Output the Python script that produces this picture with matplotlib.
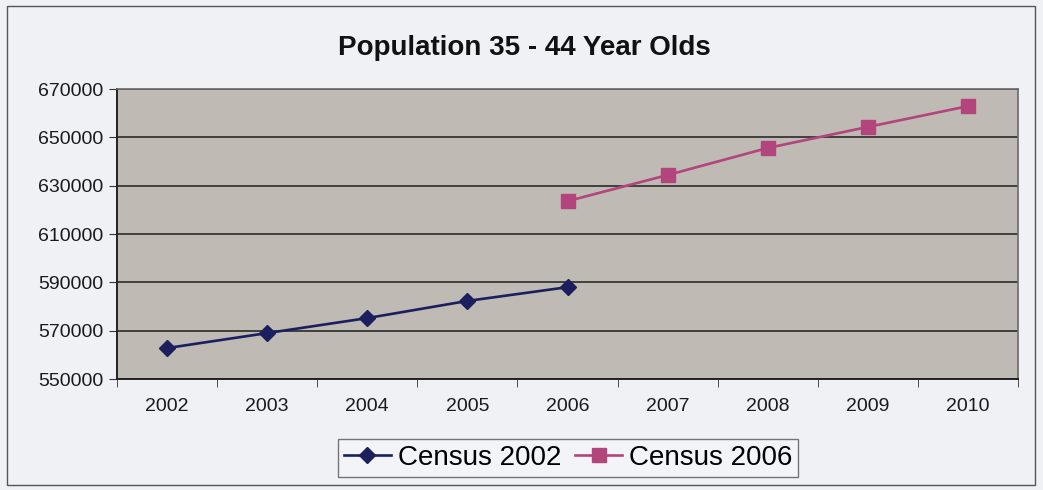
import matplotlib.pyplot as plt
from matplotlib.patches import Rectangle

years = ['2002', '2003', '2004', '2005', '2006', '2007', '2008', '2009', '2010']
census_2002 = [562800, 569000, 575200, 582300, 588000]
census_2006 = [623600, 634400, 645600, 654300, 662900]

plt.rcParams['font.family'] = ['Liberation Sans', 'DejaVu Sans']

fig = plt.figure(figsize=(10.43, 4.9), dpi=100)
fig.patch.set_facecolor('#f0f1f4')
fig.patches.append(Rectangle((7 / 1043, 5 / 490), 1028 / 1043, 479 / 490, transform=fig.transFigure,
                             fill=False, edgecolor='#555555', linewidth=1.0))

ax = fig.add_axes([117 / 1043, 1 - 379 / 490, 901 / 1043, 290 / 490])
ax.set_facecolor('#bfbab4')

x = list(range(len(years)))
ax.plot(x[:5], census_2002, color='#1c1f5e', linewidth=1.9, marker='D', markersize=8,
        label='Census 2002', zorder=3)
ax.plot(x[4:], census_2006, color='#b2457c', linewidth=1.9, marker='s', markersize=10,
        label='Census 2006', zorder=3)

ax.set_xlim(-0.5, len(years) - 0.5)
ax.set_ylim(550000, 670000)
ax.set_yticks(range(550000, 670001, 20000))
ax.yaxis.grid(True, color='#2a2a2a', linewidth=1.2)
ax.set_axisbelow(True)

ax.set_xticks(x)
ax.set_xticklabels(years)
ax.set_xticks([i - 0.5 for i in range(len(years) + 1)], minor=True)
ax.tick_params(axis='x', which='major', length=0, pad=14, labelsize=14, labelcolor='#1a1a1a')
ax.tick_params(axis='x', which='minor', length=6, color='#333333', direction='out')
ax.tick_params(axis='y', length=6, color='#333333', labelsize=14, labelcolor='#1a1a1a', pad=4)

for side in ['left', 'bottom']:
    ax.spines[side].set_color('#222222')
    ax.spines[side].set_linewidth(1.4)
for side in ['top', 'right']:
    ax.spines[side].set_color('#6a6a6a')
    ax.spines[side].set_linewidth(1.2)

fig.text(0.503, 1 - 48 / 490, 'Population 35 - 44 Year Olds', ha='center', va='center',
         fontsize=20, fontweight='bold', color='#111111')

lgd = fig.legend(loc='center', bbox_to_anchor=(568 / 1043, 1 - 458 / 490), ncol=2,
                 fontsize=20, frameon=True, fancybox=False, edgecolor='#555555',
                 facecolor='#f4f5f8', handlelength=1.7, handletextpad=0.25,
                 columnspacing=0.5, borderpad=0.2, borderaxespad=0)
lgd.get_frame().set_linewidth(1.0)

fig.savefig('out.png', dpi=100, facecolor=fig.get_facecolor())
